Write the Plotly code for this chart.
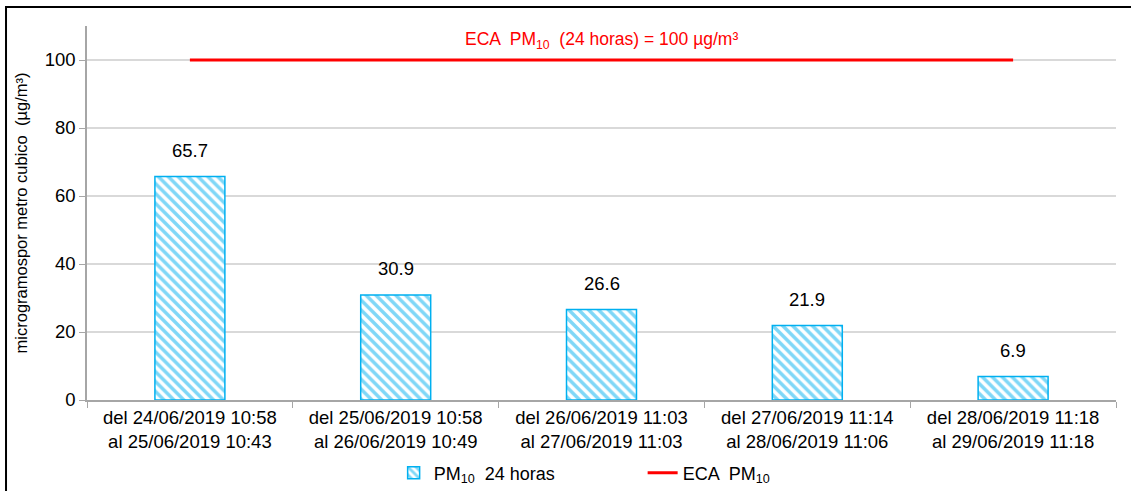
import plotly.graph_objects as go

categories = [
    "del 24/06/2019 10:58<br>al 25/06/2019 10:43",
    "del 25/06/2019 10:58<br>al 26/06/2019 10:49",
    "del 26/06/2019 11:03<br>al 27/06/2019 11:03",
    "del 27/06/2019 11:14<br>al 28/06/2019 11:06",
    "del 28/06/2019 11:18<br>al 29/06/2019 11:18",
]
pm10_values = [65.7, 30.9, 26.6, 21.9, 6.9]
eca_values = [100, 100, 100, 100, 100]
y_ticks = [0, 20, 40, 60, 80, 100]

FONT = "Liberation Sans, Arial, sans-serif"
BLUE = "#00B0F0"

fig = go.Figure()
fig.add_trace(go.Bar(
    x=categories, y=pm10_values,
    name="PM<sub>10</sub>  24 horas",
    width=0.34,
    marker=dict(color="white", line=dict(color=BLUE, width=1.5),
                pattern=dict(shape="\\", fgcolor=BLUE, bgcolor="white", size=7, solidity=0.5)),
))
fig.add_trace(go.Scatter(
    x=categories, y=eca_values, mode="lines",
    name="ECA  PM<sub>10</sub>",
    line=dict(color="#FF0000", width=3),
))

for c, v in zip(categories, pm10_values):
    fig.add_annotation(x=c, y=v, text=f"{v:.1f}", showarrow=False, yshift=26,
                       font=dict(size=18.5, color="#000000", family=FONT))

fig.add_annotation(
    text="ECA  PM<sub>10</sub>  (24 horas) = 100 µg/m³",
    xref="paper", yref="y", x=0.5, y=105.6, showarrow=False,
    font=dict(color="#FF0000", size=17.5, family=FONT),
)
fig.add_shape(type="rect", xref="paper", yref="paper",
              x0=-0.0787, x1=1.2, y0=-0.6, y1=1.0508,
              line=dict(color="black", width=2), fillcolor="rgba(0,0,0,0)", layer="above")

fig.update_layout(
    width=1131, height=491,
    margin=dict(l=87, r=15, t=26, b=91, autoexpand=False),
    paper_bgcolor="white", plot_bgcolor="white",
    font=dict(family=FONT, size=18, color="#000000"),
    showlegend=True,
    legend=dict(orientation="h", x=0.298, xanchor="left", y=-0.195, yanchor="middle",
                font=dict(size=18), entrywidth=204, entrywidthmode="pixels"),
    bargap=0.66,
)
fig.update_xaxes(
    tickson="boundaries", ticks="outside", ticklen=6, tickcolor="#A6A6A6",
    showline=True, linecolor="#A6A6A6", linewidth=1.5, showgrid=False,
    tickfont=dict(size=18.5), automargin=False,
)
fig.update_yaxes(
    range=[0, 110], tickvals=y_ticks, ticks="outside", ticklen=6, tickcolor="#A6A6A6",
    showline=True, linecolor="#A6A6A6", linewidth=1.5,
    showgrid=True, gridcolor="#D9D9D9", gridwidth=1.5,
    tickfont=dict(size=18.5), zeroline=False, automargin=False,
    title=dict(text="microgramospor metro cubico  (µg/m³)", font=dict(size=16.5), standoff=13),
)

fig.write_html("out.html", config={"displayModeBar": False},
               post_script="document.body.style.margin='0';")
